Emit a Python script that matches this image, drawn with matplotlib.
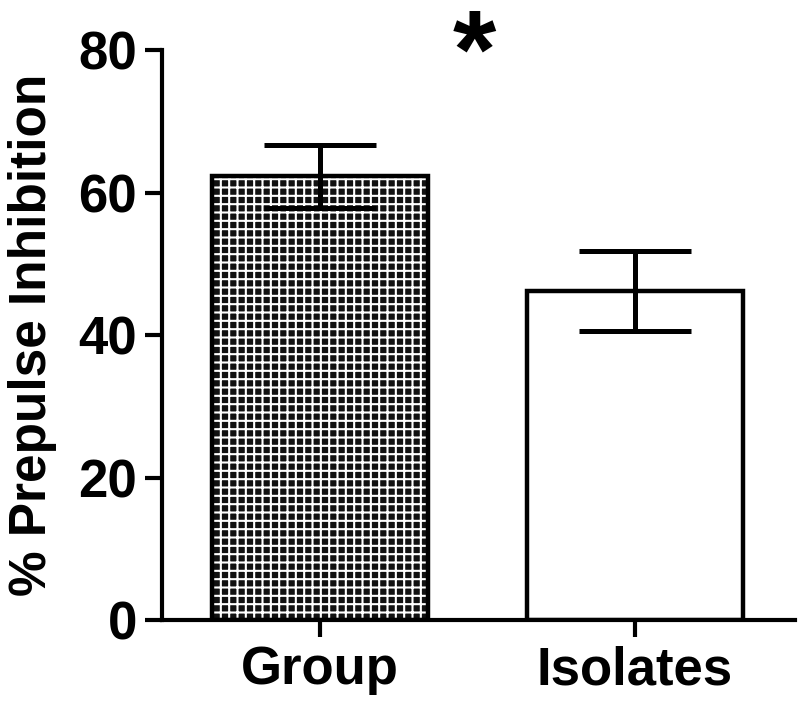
import matplotlib
matplotlib.use('Agg')
import matplotlib.pyplot as plt

groups = ['Group', 'Isolates']
ppi_mean = [62.3, 46.2]
ppi_sem = [4.4, 5.6]

plt.rcParams['font.family'] = ['Liberation Sans', 'DejaVu Sans']
plt.rcParams['font.weight'] = 'bold'
plt.rcParams['hatch.linewidth'] = 1.5

fig = plt.figure(figsize=(8, 7.06), dpi=100)
ax = fig.add_axes([0.2025, 0.1218, 0.791, 0.807])

x = [0, 1]
width = 0.686
# textured fill for the first bar, plain white for the second
ax.bar(x[0], ppi_mean[0], width, color='#111111', edgecolor='white', hatch='++', linewidth=0, zorder=1)
ax.bar(x[1], ppi_mean[1], width, color='white', linewidth=0, zorder=1)
ax.bar(x, ppi_mean, width, fill=False, edgecolor='black', linewidth=3.2, zorder=2)
ax.errorbar(x, ppi_mean, yerr=ppi_sem, fmt='none', ecolor='black', elinewidth=3.6,
            capsize=40, capthick=3.6, zorder=3)

ax.set_xlim(-0.502, 1.508)
ax.set_ylim(0, 80)
ax.set_yticks([0, 20, 40, 60, 80])
ax.set_xticks(x)
ax.set_xticklabels(groups)
ax.set_ylabel('% Prepulse Inhibition', fontsize=37, fontweight='bold')
ax.yaxis.set_label_coords(-0.166, 0.5)

for s in ['top', 'right']:
    ax.spines[s].set_visible(False)
for s in ['left', 'bottom']:
    ax.spines[s].set_linewidth(3)
ax.tick_params(axis='both', width=3, length=12, labelsize=38)
ax.tick_params(axis='y', pad=6)
ax.tick_params(axis='x', pad=6)

ax.text(0.49, 78.8, '*', fontsize=80, fontweight='bold', ha='center', va='center', clip_on=False)

fig.savefig('out.png', dpi=100)
